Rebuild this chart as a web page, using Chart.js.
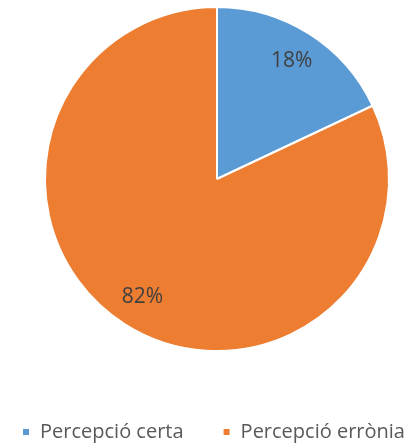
<!DOCTYPE html>
<html>
<head>
<meta charset="utf-8">
<script src="https://cdn.jsdelivr.net/npm/chart.js@4"></script>
<style>
  html, body { margin: 0; padding: 0; background: #fff; }
  #wrap { width: 419px; height: 445px; }
</style>
</head>
<body>
<div id="wrap"><canvas id="grafico"></canvas></div>
<script>
const categorias = ["Percepció certa", "Percepció errònia"];
const valores = [18, 82];
const etiquetas = ["18%", "82%"];
const colores = ["#5B9BD5", "#ED7D31"];

const ctx = document.getElementById("grafico").getContext("2d");
const fuente = "'Open Sans', 'Liberation Sans', sans-serif";

// etiquetas de porcentaje dentro de cada porción
const etiquetasPlugin = {
    id: "etiquetas",
    afterDatasetsDraw(chart) {
        const c = chart.ctx;
        const meta = chart.getDatasetMeta(0);
        c.save();
        c.fillStyle = "#404040";
        c.font = "21px " + fuente;
        c.textAlign = "center";
        c.textBaseline = "middle";
        meta.data.forEach((arc, i) => {
            const p = arc.getProps(["x", "y", "startAngle", "endAngle", "outerRadius"], true);
            const ang = (p.startAngle + p.endAngle) / 2;
            const r = p.outerRadius * 0.81;
            c.fillText(etiquetas[i], p.x + Math.cos(ang) * r, p.y + Math.sin(ang) * r);
        });
        c.restore();
    }
};

// leyenda en una sola fila, más abajo, y pastel algo a la derecha
const leyendaPlugin = {
    id: "leyendaAbajo",
    beforeLayout(chart) {
        const l = chart.legend;
        if (!l || l._parcheado) return;
        const fit = l.fit;
        l.fit = function () {
            const mw = this.maxWidth;
            this.maxWidth = 2000;
            fit.call(this);
            this.maxWidth = mw;
            this.width = mw;
        };
        l._parcheado = true;
    },
    afterLayout(chart) {
        const l = chart.legend;
        const dy = 383 - l.top;
        l.top += dy;
        l.bottom += dy;
        // ensanchar por igual a ambos lados: mismo centrado, sin saltar de línea
        l.left += 4 - 100;
        l.right += 4 + 100;
        chart.chartArea.left += 7.5;
        chart.chartArea.right += 7.5;
    }
};

new Chart(ctx, {
    type: "pie",
    data: {
        labels: categorias,
        datasets: [{
            data: valores,
            backgroundColor: colores,
            borderColor: "#fff",
            borderWidth: 2
        }]
    },
    options: {
        responsive: true,
        maintainAspectRatio: false,
        animation: false,
        layout: { padding: { top: 6, bottom: 24, left: 0, right: 0 } },
        plugins: {
            tooltip: { enabled: false },
            legend: {
                position: "bottom",
                labels: {
                    boxWidth: 8,
                    boxHeight: 8,
                    padding: 39,
                    color: "#595959",
                    font: { family: fuente, size: 20 }
                }
            }
        }
    },
    plugins: [etiquetasPlugin, leyendaPlugin]
});
</script>
</body>
</html>
